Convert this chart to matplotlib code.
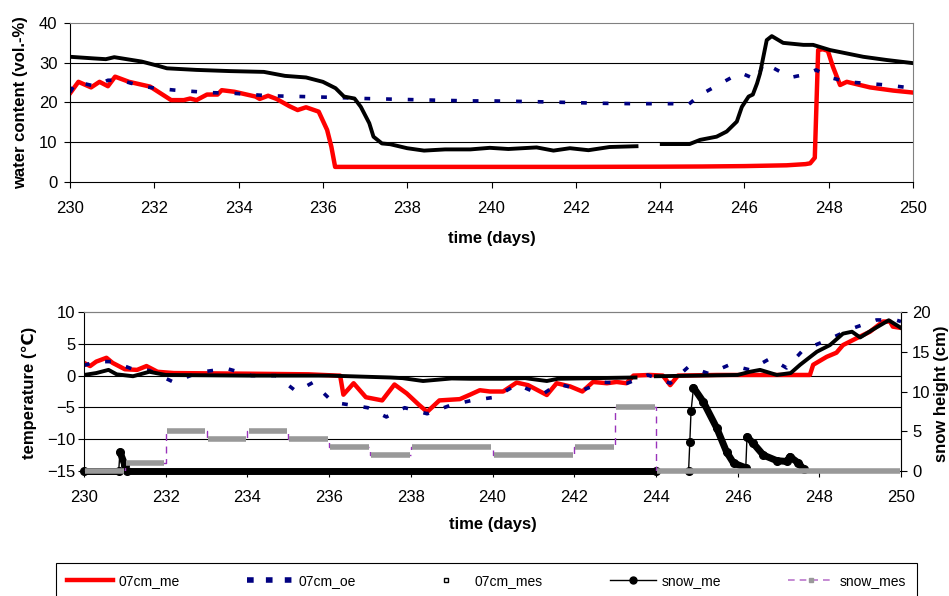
import numpy as np
import matplotlib
matplotlib.use("Agg")
import matplotlib.pyplot as plt
from matplotlib.collections import LineCollection
from matplotlib.lines import Line2D

plt.rcParams['font.family'] = ['Liberation Sans', 'DejaVu Sans']

nan = np.nan

# ---- water content at 7 cm (vol.-%) ----
wc_me_day = [230.0, 230.2, 230.5, 230.7, 230.9, 231.07, 231.4, 231.9, 232.4, 232.7, 232.85, 233.0,
             233.25, 233.5, 233.6, 233.9, 234.4, 234.5, 234.7, 234.9, 235.2, 235.4, 235.6, 235.9,
             236.1, 236.2, 236.29, 238.0, 240.0, 242.0, 244.0, 245.0, 246.0, 247.0, 247.45, 247.56,
             247.67, 247.75, 247.86, 247.98, 248.1, 248.27, 248.43, 248.98, 249.53, 250.0]
wc_me = [22.3, 25.2, 23.8, 25.2, 24.1, 26.5, 25.2, 24.0, 20.6, 20.6, 21.0, 20.6,
         22.0, 22.0, 23.1, 22.7, 21.5, 20.9, 21.7, 20.9, 19.1, 18.1, 18.8, 17.7,
         13.1, 8.9, 3.8, 3.8, 3.8, 3.8, 3.85, 3.9, 4.0, 4.2, 4.5, 4.7,
         6.1, 33.2, 33.4, 33.0, 29.0, 24.4, 25.2, 23.8, 23.0, 22.5]

wc_oe_day = [230.0, 230.15, 230.6, 230.9, 231.2, 231.7, 232.1, 232.5, 233.3, 233.9, 234.7, 235.5,
             236.2, 237.0, 237.8, 238.6, 239.5, 240.0, 241.07, 241.86, 242.6, 243.4, 244.3, 244.66,
             244.95, 245.34, 245.9, 246.3, 246.45, 246.7, 247.1, 247.5, 247.7, 248.03, 248.43, 248.9,
             249.37, 250.0]
wc_oe = [22.6, 25.2, 24.1, 25.6, 25.6, 24.1, 23.5, 23.1, 22.5, 22.3, 21.7, 21.5,
         21.3, 21.0, 20.8, 20.6, 20.4, 20.4, 20.2, 20.0, 19.8, 19.7, 19.7, 19.4,
         21.9, 24.2, 27.5, 25.7, 29.9, 28.6, 26.3, 27.2, 28.2, 26.3, 25.2, 24.8,
         24.4, 23.6]

wc_mes_day = [230.0, 230.55, 230.85, 231.05, 231.7, 232.1, 232.3, 233.0, 233.8, 234.6, 235.1, 235.6,
              236.0, 236.3, 236.5, 236.75, 236.9, 237.1, 237.2, 237.4, 237.6, 238.0, 238.4, 238.9,
              239.5, 239.96, 240.4, 241.07, 241.47, 241.86, 242.3, 242.8, 243.44, 243.7, 244.04, 244.7,
              244.95, 245.34, 245.58, 245.82, 245.94, 246.1, 246.2, 246.3, 246.37, 246.45, 246.53, 246.65,
              246.92, 247.4, 247.63, 248.03, 248.82, 249.37, 250.0]
wc_mes = [31.5, 31.1, 30.9, 31.4, 30.3, 29.2, 28.6, 28.2, 27.9, 27.7, 26.7, 26.3,
          25.2, 23.6, 21.5, 21.0, 18.9, 14.8, 11.4, 9.7, 9.5, 8.5, 7.9, 8.2,
          8.2, 8.6, 8.3, 8.7, 7.9, 8.5, 8.0, 8.8, 9.0, nan, 9.55, 9.55,
          10.6, 11.4, 12.7, 15.2, 18.9, 21.5, 22.0, 24.8, 27.3, 31.5, 35.7, 36.7,
          35.0, 34.5, 34.5, 33.2, 31.5, 30.7, 29.9]

# ---- temperature at 7 cm (deg C) ----
t_me_day = [230.0, 230.15, 230.3, 230.55, 230.7, 231.0, 231.3, 231.53, 231.8, 232.2, 234.0, 235.5,
            236.2, 236.27, 236.35, 236.6, 236.9, 237.3, 237.6, 237.9, 238.2, 238.4, 238.7, 239.2,
            239.45, 239.69, 239.94, 240.26, 240.59, 240.87, 241.33, 241.57, 241.9, 242.2, 242.46, 242.8,
            243.04, 243.28, 243.45, 243.85, 244.17, 244.35, 244.54, 245.5, 246.5, 247.77, 247.85, 248.18,
            248.42, 248.58, 248.92, 249.24, 249.56, 249.73, 249.8, 250.0]
t_me = [2.0, 1.5, 2.2, 2.8, 2.0, 1.0, 0.9, 1.5, 0.6, 0.4, 0.3, 0.2,
        0.0, 0.0, -3.0, -1.2, -3.4, -3.9, -1.4, -2.8, -4.6, -5.7, -3.9, -3.7,
        -3.0, -2.3, -2.5, -2.5, -1.1, -1.5, -3.05, -1.2, -1.7, -2.5, -1.0, -1.2,
        -1.0, -1.2, 0.0, 0.1, 0.0, -1.5, 0.0, 0.1, 0.1, 0.1, 1.7, 2.95,
        3.6, 4.8, 5.9, 6.9, 8.5, 8.5, 7.7, 7.5]

t_oe_day = [230.0, 230.3, 230.7, 231.2, 231.6, 232.2, 232.8, 233.5, 234.1, 234.7, 235.2, 235.6,
            236.1, 236.5, 236.95, 237.4, 237.85, 238.4, 239.0, 239.5, 240.06, 240.6, 241.2, 241.6,
            242.2, 242.7, 243.3, 243.8, 244.35, 244.8, 245.3, 245.8, 246.3, 246.8, 247.2, 247.6,
            248.2, 248.8, 249.4, 249.87, 250.0]
t_oe = [1.6, 2.2, 2.2, 1.0, 0.8, -1.05, 0.5, 1.1, 0.0, 0.0, -2.5, -1.1,
        -4.2, -4.6, -5.05, -6.5, -5.05, -6.0, -4.6, -3.9, -3.4, -1.4, -3.05, -1.3,
        -2.3, -1.05, -1.2, 0.1, -1.2, 1.4, 0.3, 1.7, 0.9, 2.7, 1.2, 4.0,
        5.6, 7.4, 8.75, 8.75, 8.5]

t_mes_day = [230.0, 230.3, 230.6, 230.8, 231.2, 231.6, 232.0, 234.0, 236.0, 237.0, 237.5, 237.8,
             238.3, 239.0, 239.45, 240.26, 240.8, 241.33, 241.6, 242.5, 243.5, 243.75, 244.0, 245.0,
             246.0, 246.3, 246.55, 246.96, 247.3, 247.53, 247.94, 248.26, 248.58, 248.8, 249.0, 249.3,
             249.7, 250.0]
t_mes = [0.1, 0.4, 0.9, 0.2, -0.1, 0.6, 0.1, 0.0, 0.0, -0.2, -0.3, -0.4,
         -0.85, -0.45, -0.5, -0.5, -0.4, -0.85, -0.5, -0.4, -0.3, nan, -0.1, 0.0,
         0.1, 0.6, 0.9, 0.1, 0.4, 1.7, 3.75, 4.8, 6.6, 6.9, 6.0, 7.2,
         8.7, 7.5]

# ---- snow height (cm) ----
snow_me_day = [230.0, 230.85, 230.88, 231.0, 231.05, 244.0, 244.01, 244.8, 244.83, 244.86, 244.92,
               245.16, 245.49, 245.73, 245.9, 246.2, 246.23, 246.38, 246.63, 246.96, 247.2, 247.28,
               247.49, 247.62]
snow_me = [0.0, 0.0, 2.4, 0.75, 0.0, 0.0, nan, 0.0, 3.6, 7.5, 10.5,
           8.7, 5.4, 2.4, 1.0, 0.4, 4.3, 3.5, 2.0, 1.3, 1.2, 1.8,
           1.0, 0.2]

snow_mes_edges = [230, 231, 232, 233, 234, 235, 236, 237, 238, 240, 242, 243, 244, 250]
snow_mes = [0, 1, 5, 4, 5, 4, 3, 2, 3, 2, 3, 8, 0]

days_ticks = np.arange(230, 251, 2)

RED = '#FF0000'
NAVY = '#000080'
GREY = '#999999'
PURPLE = '#9933BB'
FRAME = '#808080'

fig = plt.figure(figsize=(9.49, 5.96), dpi=100)

# ---------------- water content panel ----------------
ax1 = fig.add_axes([70 / 949, 1 - 182 / 596, 843 / 949, 159 / 596])
ax1.plot(wc_me_day, wc_me, color=RED, lw=3.2, solid_joinstyle='round')
ax1.plot(wc_oe_day, wc_oe, color=NAVY, lw=2.6, dashes=(1.6, 4.4))
ax1.plot(wc_mes_day, wc_mes, color='black', lw=2.8)
ax1.set_xlim(230, 250)
ax1.set_ylim(0, 40)
ax1.set_yticks([0, 10, 20, 30, 40])
ax1.set_xticks(days_ticks)
ax1.set_ylabel('water content (vol.-%)', fontsize=12, fontweight='bold')
ax1.set_xlabel('time (days)', fontsize=12, fontweight='bold')
ax1.yaxis.set_label_coords(-0.05, 0.5)
ax1.xaxis.set_label_coords(0.5, -0.31)

# ---------------- temperature / snow panel ----------------
ax2 = fig.add_axes([84 / 949, 1 - 471 / 596, 817 / 949, 159 / 596])
ax2.plot(t_me_day, t_me, color=RED, lw=3.2, solid_joinstyle='round')
ax2.plot(t_oe_day, t_oe, color=NAVY, lw=2.6, dashes=(1.6, 4.4))
ax2.plot(t_mes_day, t_mes, color='black', lw=2.8)
ax2.set_xlim(230, 250)
ax2.set_ylim(-15, 10)
ax2.set_yticks([-15, -10, -5, 0, 5, 10])
ax2.set_xticks(days_ticks)
ax2.set_ylabel('temperature (℃)', fontsize=12, fontweight='bold')
ax2.set_xlabel('time (days)', fontsize=12, fontweight='bold')
ax2.yaxis.set_label_coords(-0.058, 0.494)
ax2.xaxis.set_label_coords(0.5, -0.29)

ax3 = ax2.twinx()
ax3.set_ylim(0, 20)
ax3.set_yticks([0, 5, 10, 15, 20])
ax3.set_ylabel('snow height (cm)', fontsize=12, fontweight='bold')
ax3.yaxis.set_label_coords(1.041, 0.487)

# snow_me: dense markers look like a thick band, fast jumps show the thin connecting line
sx = np.array(snow_me_day)
sy = np.array(snow_me)
ax3.plot(sx, sy, color='black', lw=1.0, clip_on=False)
segs, widths = [], []
for i in range(len(sx) - 1):
    if np.isnan(sy[i]) or np.isnan(sy[i + 1]):
        continue
    slope = abs(sy[i + 1] - sy[i]) / (sx[i + 1] - sx[i])
    if slope < 40:
        segs.append([(sx[i], sy[i]), (sx[i + 1], sy[i + 1])])
        widths.append(5.0)
ax3.add_collection(LineCollection(segs, colors='black', linewidths=widths,
                                  capstyle='round', clip_on=False))
ax3.plot(sx, sy, 'o', color='black', ms=5.5, clip_on=False)

# snow_mes: measured steps
ex = np.array(snow_mes_edges, dtype=float)
ev = np.array(snow_mes, dtype=float)
ax3.step(ex, np.append(ev, ev[-1]), where='post', color=PURPLE, lw=1.0, dashes=(5, 4))
ax3.hlines(ev, ex[:-1] + 0.03, ex[1:] - 0.03, color=GREY, lw=4, clip_on=False)

# ---------------- axes styling ----------------
for ax in (ax1, ax2):
    ax.tick_params(axis='both', direction='out', length=4, width=0.8, labelsize=12, color='black')
    ax.tick_params(axis='x', pad=10)
    ax.tick_params(axis='y', pad=5)
    ax.yaxis.grid(True, color='black', lw=0.8)
    ax.set_axisbelow(True)
    ax.spines['top'].set_color(FRAME)
    ax.spines['right'].set_color(FRAME)
    for s in ('left', 'bottom'):
        ax.spines[s].set_color('black')
    gl = ax.get_ygridlines()
    gl[0].set_visible(False)
    gl[-1].set_visible(False)
ax2.tick_params(axis='y', pad=2)

ax3.tick_params(axis='y', direction='out', length=4, width=0.8, labelsize=12, pad=4)
ax3.spines['right'].set_color('black')
ax3.spines['top'].set_color(FRAME)
ax3.spines['left'].set_visible(False)
ax3.spines['bottom'].set_visible(False)

# ---------------- legend ----------------
handles = [
    Line2D([], [], color=RED, lw=3.2),
    Line2D([], [], color=NAVY, lw=4, dashes=(1.2, 2.2)),
    Line2D([], [], ls='none', marker='s', ms=3, mfc='white', mec='black', mew=1),
    Line2D([], [], color='black', lw=1, marker='o', ms=5),
    Line2D([], [], color='#BB77CC', lw=1.2, dashes=(4, 3), marker='s', ms=3, mfc=GREY, mec=GREY),
]
labels = ['07cm_me', '07cm_oe', '07cm_mes', 'snow_me', 'snow_mes']
leg = fig.legend(handles, labels, loc='upper left', ncol=5, mode='expand',
                 bbox_to_anchor=(56 / 949, 0.0, 861 / 949, 1 - 563 / 596),
                 fontsize=10, frameon=True, fancybox=False, framealpha=1,
                 edgecolor='black', handlelength=3.3, handletextpad=0.4, borderaxespad=0,
                 borderpad=0.8)
leg.get_frame().set_linewidth(0.8)

fig.savefig('out.png', dpi=100)
